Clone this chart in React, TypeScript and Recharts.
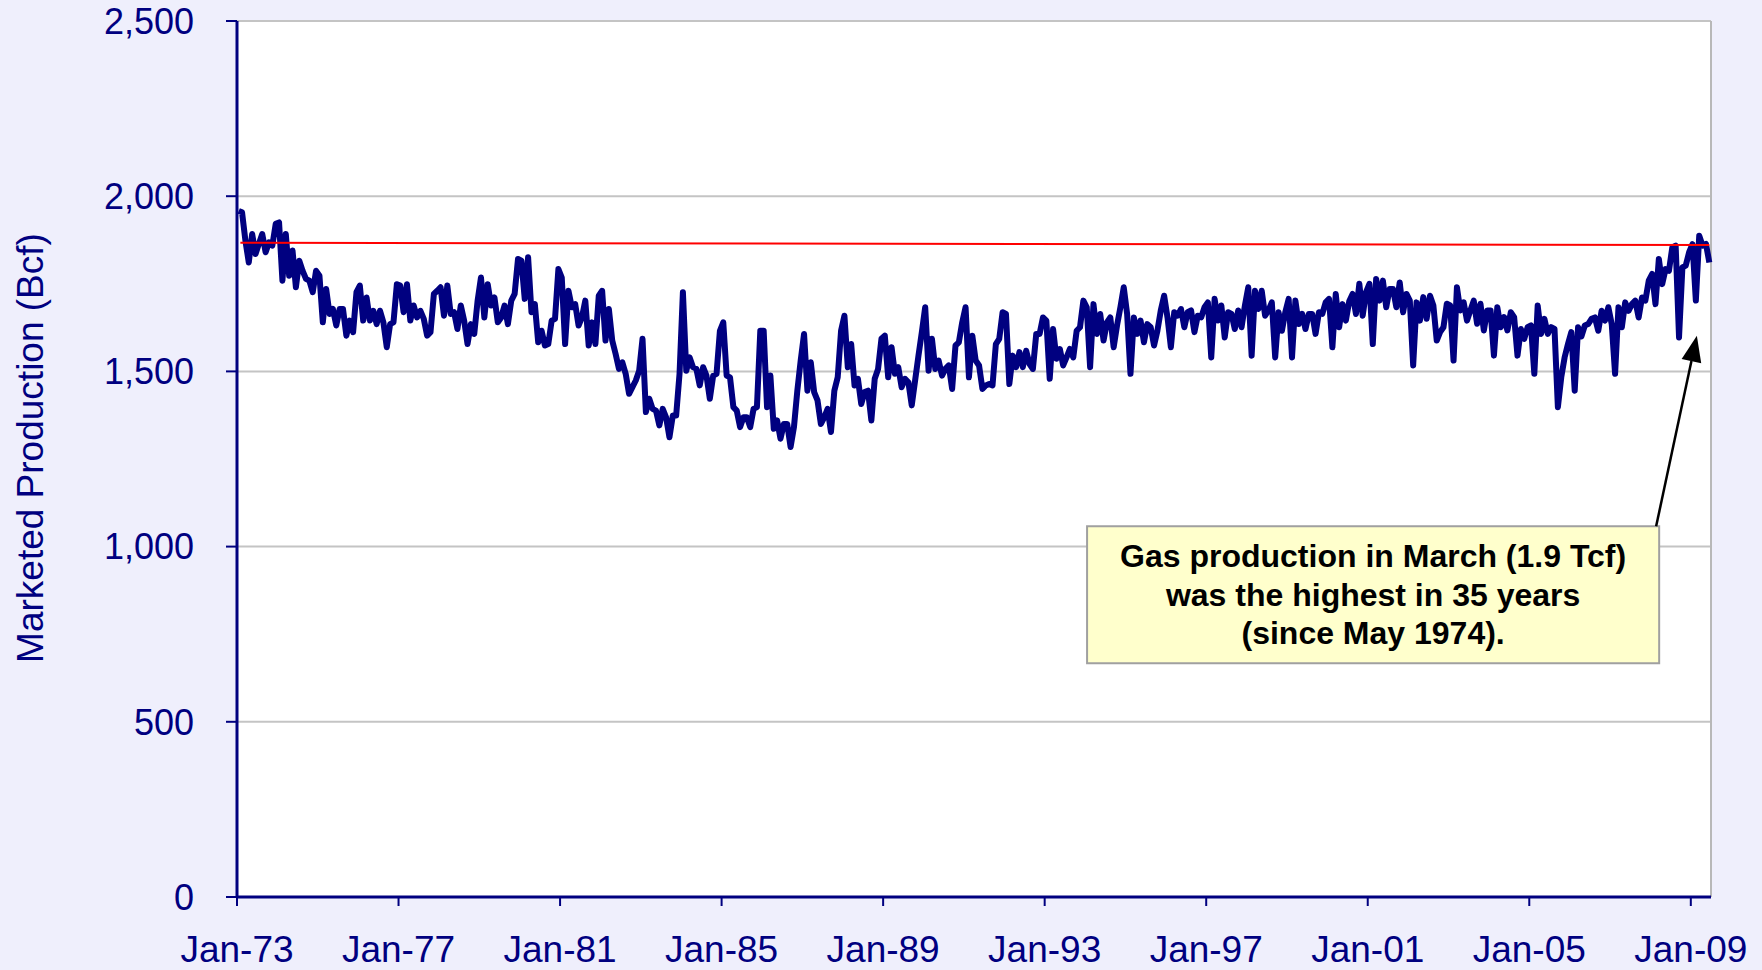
import React from "react";
import {
  CartesianGrid,
  Line,
  LineChart,
  ReferenceArea,
  ReferenceLine,
  XAxis,
  YAxis,
} from "recharts";

// monthly marketed production, Bcf (Jan..Dec)
const y1973 = [1958, 1954, 1873, 1811, 1892, 1835, 1864, 1892, 1840, 1868, 1859, 1921];
const y1974 = [1925, 1759, 1892, 1773, 1845, 1740, 1816, 1787, 1764, 1759, 1726, 1787];
const y1975 = [1773, 1640, 1735, 1664, 1678, 1631, 1678, 1678, 1602, 1645, 1612, 1726];
const y1976 = [1745, 1645, 1711, 1645, 1673, 1635, 1673, 1640, 1569, 1635, 1640, 1749];
const y1977 = [1745, 1669, 1749, 1645, 1688, 1654, 1673, 1650, 1602, 1612, 1721, 1730];
const y1978 = [1740, 1659, 1745, 1664, 1669, 1621, 1688, 1645, 1578, 1635, 1607, 1702];
const y1979 = [1768, 1654, 1749, 1688, 1711, 1640, 1654, 1688, 1635, 1702, 1721, 1821];
const y1980 = [1816, 1707, 1826, 1669, 1692, 1583, 1616, 1574, 1578, 1645, 1650, 1792];
const y1981 = [1768, 1578, 1730, 1683, 1692, 1631, 1654, 1702, 1574, 1640, 1578, 1716];
const y1982 = [1730, 1588, 1678, 1588, 1550, 1507, 1526, 1493, 1436, 1455, 1474, 1502];
const y1983 = [1593, 1384, 1422, 1393, 1388, 1346, 1393, 1369, 1312, 1374, 1374, 1493];
const y1984 = [1726, 1502, 1540, 1512, 1507, 1460, 1512, 1488, 1422, 1488, 1493, 1616];
const y1985 = [1640, 1488, 1483, 1398, 1388, 1341, 1369, 1369, 1341, 1393, 1398, 1616];
const y1986 = [1616, 1398, 1488, 1336, 1360, 1308, 1350, 1350, 1284, 1341, 1445, 1531];
const y1987 = [1607, 1445, 1526, 1441, 1417, 1350, 1369, 1393, 1327, 1445, 1483, 1616];
const y1988 = [1659, 1512, 1578, 1460, 1479, 1407, 1441, 1445, 1360, 1479, 1507, 1593];
const y1989 = [1602, 1483, 1569, 1493, 1512, 1455, 1479, 1469, 1403, 1474, 1545, 1612];
const y1990 = [1683, 1502, 1593, 1507, 1531, 1488, 1507, 1517, 1450, 1574, 1583, 1640];
const y1991 = [1683, 1483, 1602, 1531, 1517, 1450, 1460, 1464, 1460, 1578, 1593, 1669];
const y1992 = [1664, 1464, 1545, 1512, 1555, 1512, 1559, 1521, 1507, 1607, 1607, 1654];
const y1993 = [1645, 1479, 1621, 1536, 1564, 1517, 1540, 1564, 1540, 1616, 1626, 1702];
const y1994 = [1683, 1512, 1692, 1607, 1664, 1588, 1640, 1654, 1569, 1631, 1683, 1740];
const y1995 = [1664, 1493, 1654, 1607, 1645, 1583, 1635, 1626, 1574, 1616, 1674, 1716];
const y1996 = [1654, 1569, 1669, 1659, 1678, 1626, 1669, 1674, 1612, 1659, 1654, 1683];
const y1997 = [1697, 1540, 1707, 1645, 1688, 1597, 1669, 1664, 1621, 1674, 1626, 1688];
const y1998 = [1740, 1545, 1730, 1678, 1730, 1659, 1674, 1697, 1540, 1669, 1616, 1669];
const y1999 = [1707, 1540, 1702, 1635, 1664, 1621, 1664, 1664, 1607, 1669, 1664, 1697];
const y2000 = [1707, 1569, 1721, 1626, 1692, 1645, 1700, 1721, 1664, 1750, 1659, 1726];
const y2001 = [1750, 1578, 1764, 1702, 1759, 1683, 1735, 1735, 1683, 1754, 1669, 1721];
const y2002 = [1702, 1517, 1697, 1645, 1712, 1650, 1716, 1688, 1588, 1612, 1626, 1693];
const y2003 = [1688, 1531, 1740, 1674, 1697, 1645, 1674, 1702, 1636, 1693, 1617, 1674];
const y2004 = [1674, 1545, 1683, 1626, 1655, 1617, 1669, 1655, 1545, 1621, 1593, 1626];
const y2005 = [1631, 1493, 1688, 1607, 1650, 1607, 1626, 1621, 1398, 1483, 1540, 1578];
const y2006 = [1612, 1445, 1626, 1600, 1631, 1635, 1650, 1654, 1616, 1673, 1645, 1683];
const y2007 = [1635, 1493, 1683, 1626, 1697, 1673, 1692, 1702, 1654, 1711, 1702, 1759];
const y2008 = [1778, 1692, 1821, 1749, 1792, 1787, 1854, 1859, 1597, 1797, 1802, 1840];
const y2009 = [1863, 1702, 1887, 1859, 1864, 1811];

const YEARS = [
  y1973, y1974, y1975, y1976, y1977, y1978, y1979, y1980, y1981, y1982,
  y1983, y1984, y1985, y1986, y1987, y1988, y1989, y1990, y1991, y1992,
  y1993, y1994, y1995, y1996, y1997, y1998, y1999, y2000, y2001, y2002,
  y2003, y2004, y2005, y2006, y2007, y2008, y2009,
];

const X_TICKS = [0, 48, 96, 144, 192, 240, 288, 336, 384, 432];
const X_LABELS = ["Jan-73", "Jan-77", "Jan-81", "Jan-85", "Jan-89", "Jan-93", "Jan-97", "Jan-01", "Jan-05", "Jan-09"];
const Y_TICKS = [0, 500, 1000, 1500, 2000, 2500];

// red reference level drawn across the chart
const REF_START = { x: 1, y: 1867 };
const REF_END = { x: 437.5, y: 1861 };

const NOTE = [
  "Gas production in March (1.9 Tcf)",
  "was the highest in 35 years",
  "(since May 1974).",
];

// each month sits in the middle of its slot
const data = YEARS.flat().map((v, i) => ({ m: i + 0.5, v }));

const NAVY = "#000080";
const FONT = "'Liberation Sans', Arial, sans-serif";

function NoteText({ viewBox }: any) {
  if (!viewBox) return null;
  const cx = viewBox.x + viewBox.width / 2;
  return (
    <g>
      {NOTE.map((t, i) => (
        <text
          key={i}
          x={cx}
          y={viewBox.y + 41 + i * 38.5}
          textAnchor="middle"
          fontFamily={FONT}
          fontWeight="bold"
          fontSize={32}
          fill="#000"
        >
          {t}
        </text>
      ))}
    </g>
  );
}

function Arrow(props: any) {
  const { x1, y1, x2, y2 } = props;
  const dx = x2 - x1;
  const dy = y2 - y1;
  const len = Math.sqrt(dx * dx + dy * dy) || 1;
  const ux = dx / len;
  const uy = dy / len;
  const head = 26;
  const half = 10;
  const bx = x2 - ux * head;
  const by = y2 - uy * head;
  const pts = `${x2},${y2} ${bx - uy * half},${by + ux * half} ${bx + uy * half},${by - ux * half}`;
  return (
    <g>
      <line x1={x1} y1={y1} x2={bx} y2={by} stroke="#000" strokeWidth={2.5} />
      <polygon points={pts} fill="#000" />
    </g>
  );
}

export default function App() {
  return (
    <div
      style={{
        position: "absolute",
        left: 0,
        top: 0,
        width: 1762,
        height: 970,
        background: "#EFEFFC",
      }}
    >
      <LineChart
        width={1762}
        height={970}
        data={data}
        margin={{ top: 21, right: 51, bottom: 0, left: 0 }}
      >
        <CartesianGrid
          vertical={false}
          stroke="#C4C4C4"
          strokeWidth={2}
          fill="#FFFFFF"
          fillOpacity={1}
        />
        <XAxis
          dataKey="m"
          type="number"
          domain={[0, 438]}
          ticks={X_TICKS}
          interval={0}
          height={73}
          tickSize={9}
          tickMargin={30}
          axisLine={{ stroke: NAVY, strokeWidth: 3 }}
          tickLine={{ stroke: NAVY, strokeWidth: 2 }}
          tick={{ fill: NAVY, fontSize: 37, fontFamily: FONT }}
          tickFormatter={(t: number) => X_LABELS[X_TICKS.indexOf(t)]}
        />
        <YAxis
          type="number"
          domain={[0, 2500]}
          ticks={Y_TICKS}
          interval={0}
          width={237}
          tickSize={11}
          tickMargin={32}
          axisLine={{ stroke: NAVY, strokeWidth: 3 }}
          tickLine={{ stroke: NAVY, strokeWidth: 2 }}
          tick={{ fill: NAVY, fontSize: 36, fontFamily: FONT }}
          tickFormatter={(t: number) => t.toLocaleString("en-US")}
          label={{
            content: () => (
              <text
                x={30}
                y={448}
                transform="rotate(-90 30 448)"
                textAnchor="middle"
                dominantBaseline="central"
                fill={NAVY}
                fontSize={37}
                fontFamily={FONT}
              >
                Marketed Production (Bcf)
              </text>
            ),
          }}
        />
        <ReferenceLine x={438} stroke="#B8B8B8" strokeWidth={2} />
        <ReferenceArea
          x1={252.6}
          x2={422.6}
          y1={667}
          y2={1058}
          fill="#FFFFCC"
          fillOpacity={1}
          stroke="#A0A0A0"
          strokeWidth={2}
          label={{ content: (p: any) => <NoteText viewBox={p.viewBox} /> }}
        />
        <Line
          type="linear"
          dataKey="v"
          stroke={NAVY}
          strokeWidth={6}
          strokeLinejoin="round"
          dot={false}
          activeDot={false}
          isAnimationActive={false}
        />
        <ReferenceLine
          segment={[REF_START, REF_END]}
          stroke="#FF0000"
          strokeWidth={2}
        />
        <ReferenceLine
          segment={[
            { x: 421.7, y: 1058 },
            { x: 433.8, y: 1602 },
          ]}
          shape={(p: any) => <Arrow {...p} />}
        />
      </LineChart>
    </div>
  );
}
